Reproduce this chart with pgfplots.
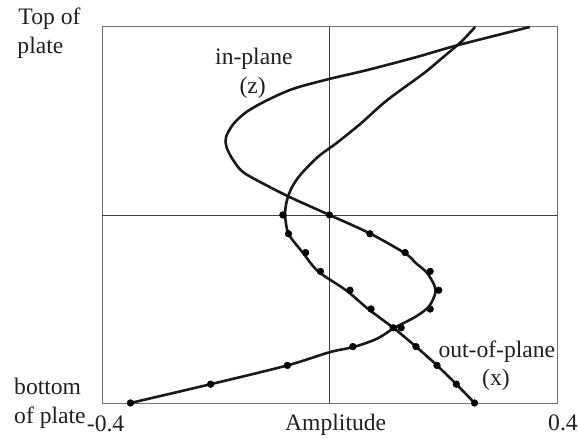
\documentclass[border=0pt]{standalone}
\usepackage{pgfplots}
\pgfplotsset{compat=1.18}
\usepackage{fontspec}
\setmainfont{Liberation Serif}

% mode shapes through the plate thickness (bottom = 0, top = 1)
\pgfplotstableread{
amp    pos
-0.350 0.000
-0.209 0.050
-0.074 0.100
 0.000 0.135
 0.045 0.150
 0.085 0.172
 0.113 0.199
 0.152 0.230
 0.175 0.257
 0.186 0.292
 0.184 0.314
 0.171 0.347
 0.152 0.372
 0.133 0.398
 0.071 0.451
 0.000 0.500
-0.069 0.547
-0.116 0.583
-0.152 0.614
-0.169 0.645
-0.181 0.680
-0.182 0.707
-0.169 0.742
-0.146 0.774
-0.110 0.805
-0.063 0.836
 0.000 0.862
 0.065 0.885
 0.153 0.920
 0.224 0.951
 0.352 1.000
}\inplane
\pgfplotstableread{
amp    pos
 0.255 0.000
 0.223 0.050
 0.189 0.100
 0.152 0.150
 0.113 0.199
 0.068 0.250
 0.029 0.300
-0.020 0.350
-0.047 0.400
-0.072 0.450
-0.078 0.500
-0.075 0.538
-0.066 0.574
-0.050 0.609
-0.020 0.655
 0.013 0.692
 0.054 0.742
 0.101 0.805
 0.165 0.876
 0.200 0.920
 0.231 0.960
 0.256 1.000
}\outplane
% measured points
\pgfplotstableread{
amp    pos
-0.350 0.00
-0.209 0.05
-0.074 0.10
 0.041 0.15
 0.126 0.20
 0.177 0.25
 0.192 0.30
 0.177 0.35
 0.133 0.40
 0.071 0.45
 0.000 0.50
}\inplanepts
\pgfplotstableread{
amp    pos
 0.255 0.00
 0.223 0.05
 0.189 0.10
 0.152 0.15
 0.112 0.20
 0.073 0.25
 0.036 0.30
-0.016 0.35
-0.042 0.40
-0.072 0.45
-0.082 0.50
}\outplanepts

\definecolor{txt}{HTML}{231F20}

\begin{document}
\begin{tikzpicture}[every node/.style={font=\fontsize{23.7}{28}\selectfont, text=txt, inner sep=0pt}]
\begin{axis}[
  scale only axis,
  width=455bp, height=376bp,
  xmin=-0.4, xmax=0.4, ymin=0, ymax=1,
  xtick=\empty, ytick=\empty,
  axis line style={black!55, line width=1bp},
  clip=false,
]
\addplot[black!75, line width=0.9bp] coordinates {(0,0) (0,1)};
\addplot[black!75, line width=0.9bp] coordinates {(-0.4,0.5) (0.4,0.5)};
\addplot[black!90, line width=2.6bp, smooth, tension=0.5] table[x=amp, y=pos] {\inplane};
\addplot[black!90, line width=2.6bp, smooth, tension=0.5] table[x=amp, y=pos] {\outplane};
\addplot[only marks, mark=*, mark size=3.4bp, black] table[x=amp, y=pos] {\inplanepts};
\addplot[only marks, mark=*, mark size=3.4bp, black] table[x=amp, y=pos] {\outplanepts};
\end{axis}
\node[anchor=base west] at (-83.7bp, 378bp) {Top of};
\node[anchor=base west] at (-84.7bp, 349.7bp) {plate};
\node[anchor=base west] at (-88bp, 9bp) {bottom};
\node[anchor=base west] at (-88bp, -20bp) {of plate};
\node[anchor=base west] at (-15.3bp, -28bp) {-0.4};
\node[anchor=base west] at (183bp, -27bp) {Amplitude};
\node[anchor=base west] at (446bp, -27bp) {0.4};
\node[anchor=base west] at (113bp, 338bp) {in-plane};
\node[anchor=base] at (150.7bp, 309.7bp) {(z)};
\node[anchor=base west] at (336.3bp, 45.7bp) {out-of-plane};
\node[anchor=base] at (394bp, 18bp) {(x)};
\pgfresetboundingbox
\path[use as bounding box] (-102bp, -36bp) rectangle (476bp, 403bp);
\end{tikzpicture}
\end{document}
